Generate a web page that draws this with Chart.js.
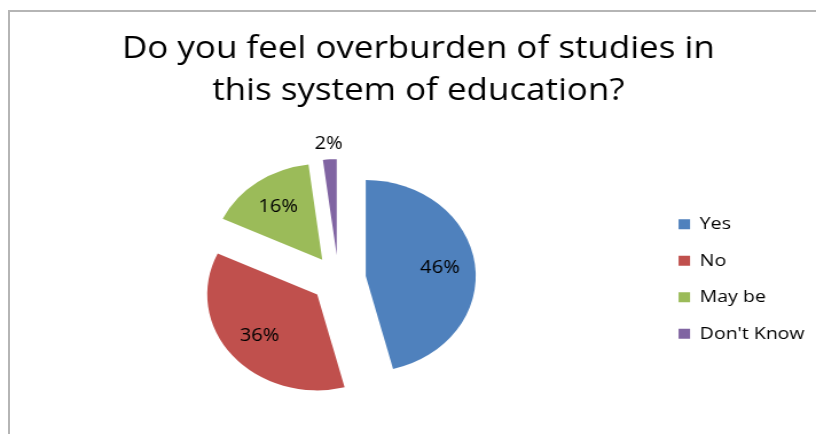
<!DOCTYPE html>
<html>
<head>
<meta charset="utf-8">
<title>Overburden of studies</title>
<script src="https://cdn.jsdelivr.net/npm/chart.js"></script>
<style>
    html, body { margin: 0; padding: 0; background: #fff; overflow: hidden; width: 816px; height: 434px; }
    /* moldura do gráfico: só as bordas esquerda e superior aparecem */
    #moldura { position: absolute; left: 8px; top: 10px; width: 900px; height: 500px;
               border-left: 2px solid #b5b5b5; border-top: 2px solid #b5b5b5; }
    #graficoSobrecarga { position: absolute; left: 0; top: 0; }
</style>
</head>
<body>
<div id="moldura"></div>
<!-- desenhado em 712px e esticado para 816px na horizontal -->
<canvas id="graficoSobrecarga" width="712" height="434" style="width:816px;height:434px"></canvas>
<script>
// * Dados da pesquisa
var titulo = ["Do you feel overburden of studies in", "this system of education?"];
var categorias = ["Yes", "No", "May be", "Don't Know"];
var percentuais = [46, 36, 16, 2];

// * Estilo das fatias
var cores = ["#4F81BD", "#C0504D", "#9BBB59", "#8064A2"];
var afastamento = [24, 24, 24, 24];   // quanto cada fatia sai do centro (px)

Chart.defaults.font.family = "'Open Sans', sans-serif";
Chart.defaults.color = "#000";

// > Desloca cada fatia pelo seu ângulo médio (pizza "explodida")
var pluginAfastamento = {
    id: 'afastamento',
    afterDatasetsUpdate(chart) {
        chart.getDatasetMeta(0).data.forEach((arco, i) => {
            const meio = (arco.startAngle + arco.endAngle) / 2;
            arco.x += Math.cos(meio) * afastamento[i];
            arco.y += Math.sin(meio) * afastamento[i];
        });
    }
};

// > Rótulos de porcentagem: dentro da fatia, ou fora quando ela é muito fina
var pluginRotulos = {
    id: 'rotulos',
    afterDatasetsDraw(chart) {
        const ctx = chart.ctx;
        ctx.save();
        ctx.font = "17.5px 'Open Sans', sans-serif";
        ctx.fillStyle = "#000";
        ctx.textAlign = "center";
        ctx.textBaseline = "middle";
        chart.getDatasetMeta(0).data.forEach((arco, i) => {
            const meio = (arco.startAngle + arco.endAngle) / 2;
            const fina = (arco.endAngle - arco.startAngle) < 0.3;
            const dist = fina ? arco.outerRadius + 15 : arco.outerRadius * 0.68;
            ctx.fillText(percentuais[i] + "%", arco.x + Math.cos(meio) * dist, arco.y + Math.sin(meio) * dist);
        });
        ctx.restore();
    }
};

var data = {
    labels: categorias,
    datasets: [{
        data: percentuais,
        backgroundColor: cores,
        borderWidth: 0,
        radius: 96,
        clip: false
    }]
};

var options = {
    responsive: false,
    animation: false,
    events: [],
    layout: { padding: { left: 18, right: 0, top: 0, bottom: 0 } },
    plugins: {
        title: {
            display: true,
            text: titulo,
            color: "#000",
            font: { size: 30.5, weight: 'normal', lineHeight: 1.38 },
            padding: { top: 28, bottom: 12 }
        },
        legend: {
            position: 'right',
            fullSize: false,
            labels: {
                boxWidth: 10,
                boxHeight: 10,
                padding: 19.5,
                color: "#000",
                font: { size: 17 }
            }
        },
        tooltip: { enabled: false }
    }
};

var ctx = document.getElementById("graficoSobrecarga").getContext("2d");
var grafico = new Chart(ctx, {
    type: "pie",
    data: data,
    options: options,
    plugins: [pluginAfastamento, pluginRotulos]
});
</script>
</body>
</html>
